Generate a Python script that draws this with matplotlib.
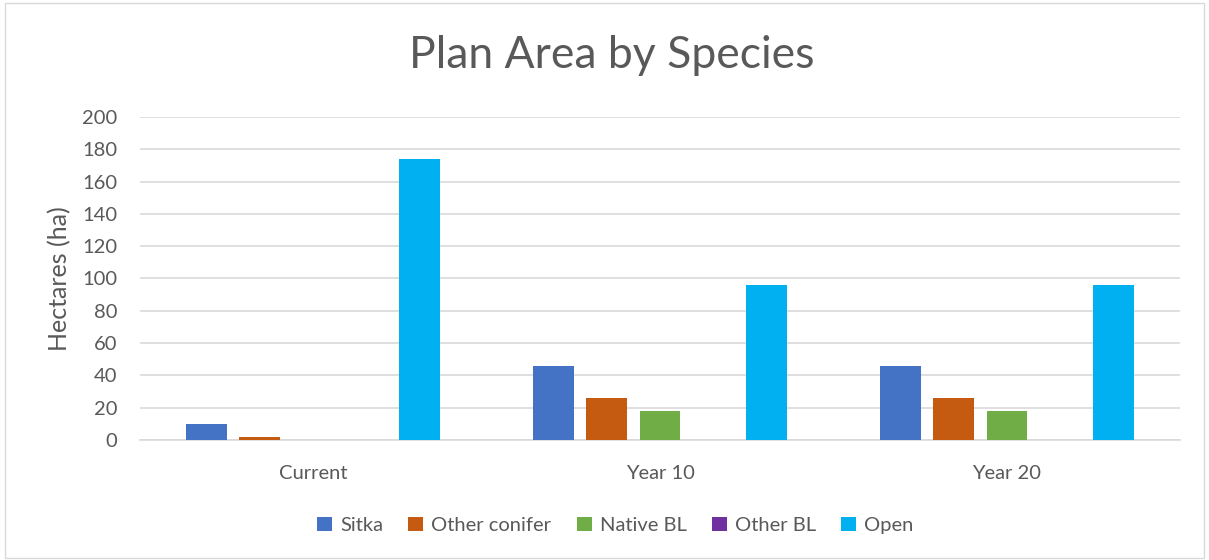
import matplotlib.pyplot as plt
import numpy as np

plt.rcParams['font.family'] = ['Lato', 'DejaVu Sans']

periods = ["Current", "Year 10", "Year 20"]
species = ["Sitka", "Other conifer", "Native BL", "Other BL", "Open"]
sitka = [10, 46, 46]
other_conifer = [2, 26, 26]
native_bl = [0, 18, 18]
other_bl = [0, 0, 0]
open_area = [174, 96, 96]
y_ticks = list(range(0, 201, 20))

colors = ['#4472c4', '#c55a11', '#70ad47', '#7030a0', '#00b0f0']
series = [sitka, other_conifer, native_bl, other_bl, open_area]
grey = '#595959'

fig = plt.figure(figsize=(12.09, 5.6), dpi=100)
ax = fig.add_axes([0.1154, 0.2143, 0.8610, 0.5768])

x = np.arange(len(periods))
stride = 0.153
width = 0.118
for i, (name, vals) in enumerate(zip(species, series)):
    ax.bar(x + (i - 2) * stride, vals, width, color=colors[i], label=name, zorder=3)

ax.set_xlim(-0.5, 2.5)
ax.set_ylim(0, 200)
ax.set_yticks(y_ticks)
ax.yaxis.grid(True, color='#d9d9d9', linewidth=1.2, zorder=0)
ax.set_xticks(x)
ax.set_xticklabels(periods)
ax.tick_params(axis='both', length=0, labelsize=14.5, colors=grey)
ax.tick_params(axis='y', pad=16)
ax.tick_params(axis='x', pad=18)
for s in ['top', 'right', 'left']:
    ax.spines[s].set_visible(False)
ax.spines['bottom'].set_color('#d9d9d9')
ax.spines['bottom'].set_linewidth(1.2)

ax.set_ylabel("Hectares (ha)", fontsize=18, color=grey, labelpad=8)
fig.text(0.506, 0.90, "Plan Area by Species", fontsize=32, color=grey,
         ha='center', va='center')

fig.legend(loc='center', bbox_to_anchor=(0.509, 0.062), ncol=5, frameon=False,
           fontsize=14.5, labelcolor=grey, handlelength=0.75, handleheight=0.75,
           handletextpad=0.4, columnspacing=1.25)

# chart border
fig.add_artist(plt.Rectangle((0.004, 0.004), 0.992, 0.99, transform=fig.transFigure,
                             fill=False, edgecolor='#d9d9d9', linewidth=1))

fig.savefig('out.png', dpi=100)
